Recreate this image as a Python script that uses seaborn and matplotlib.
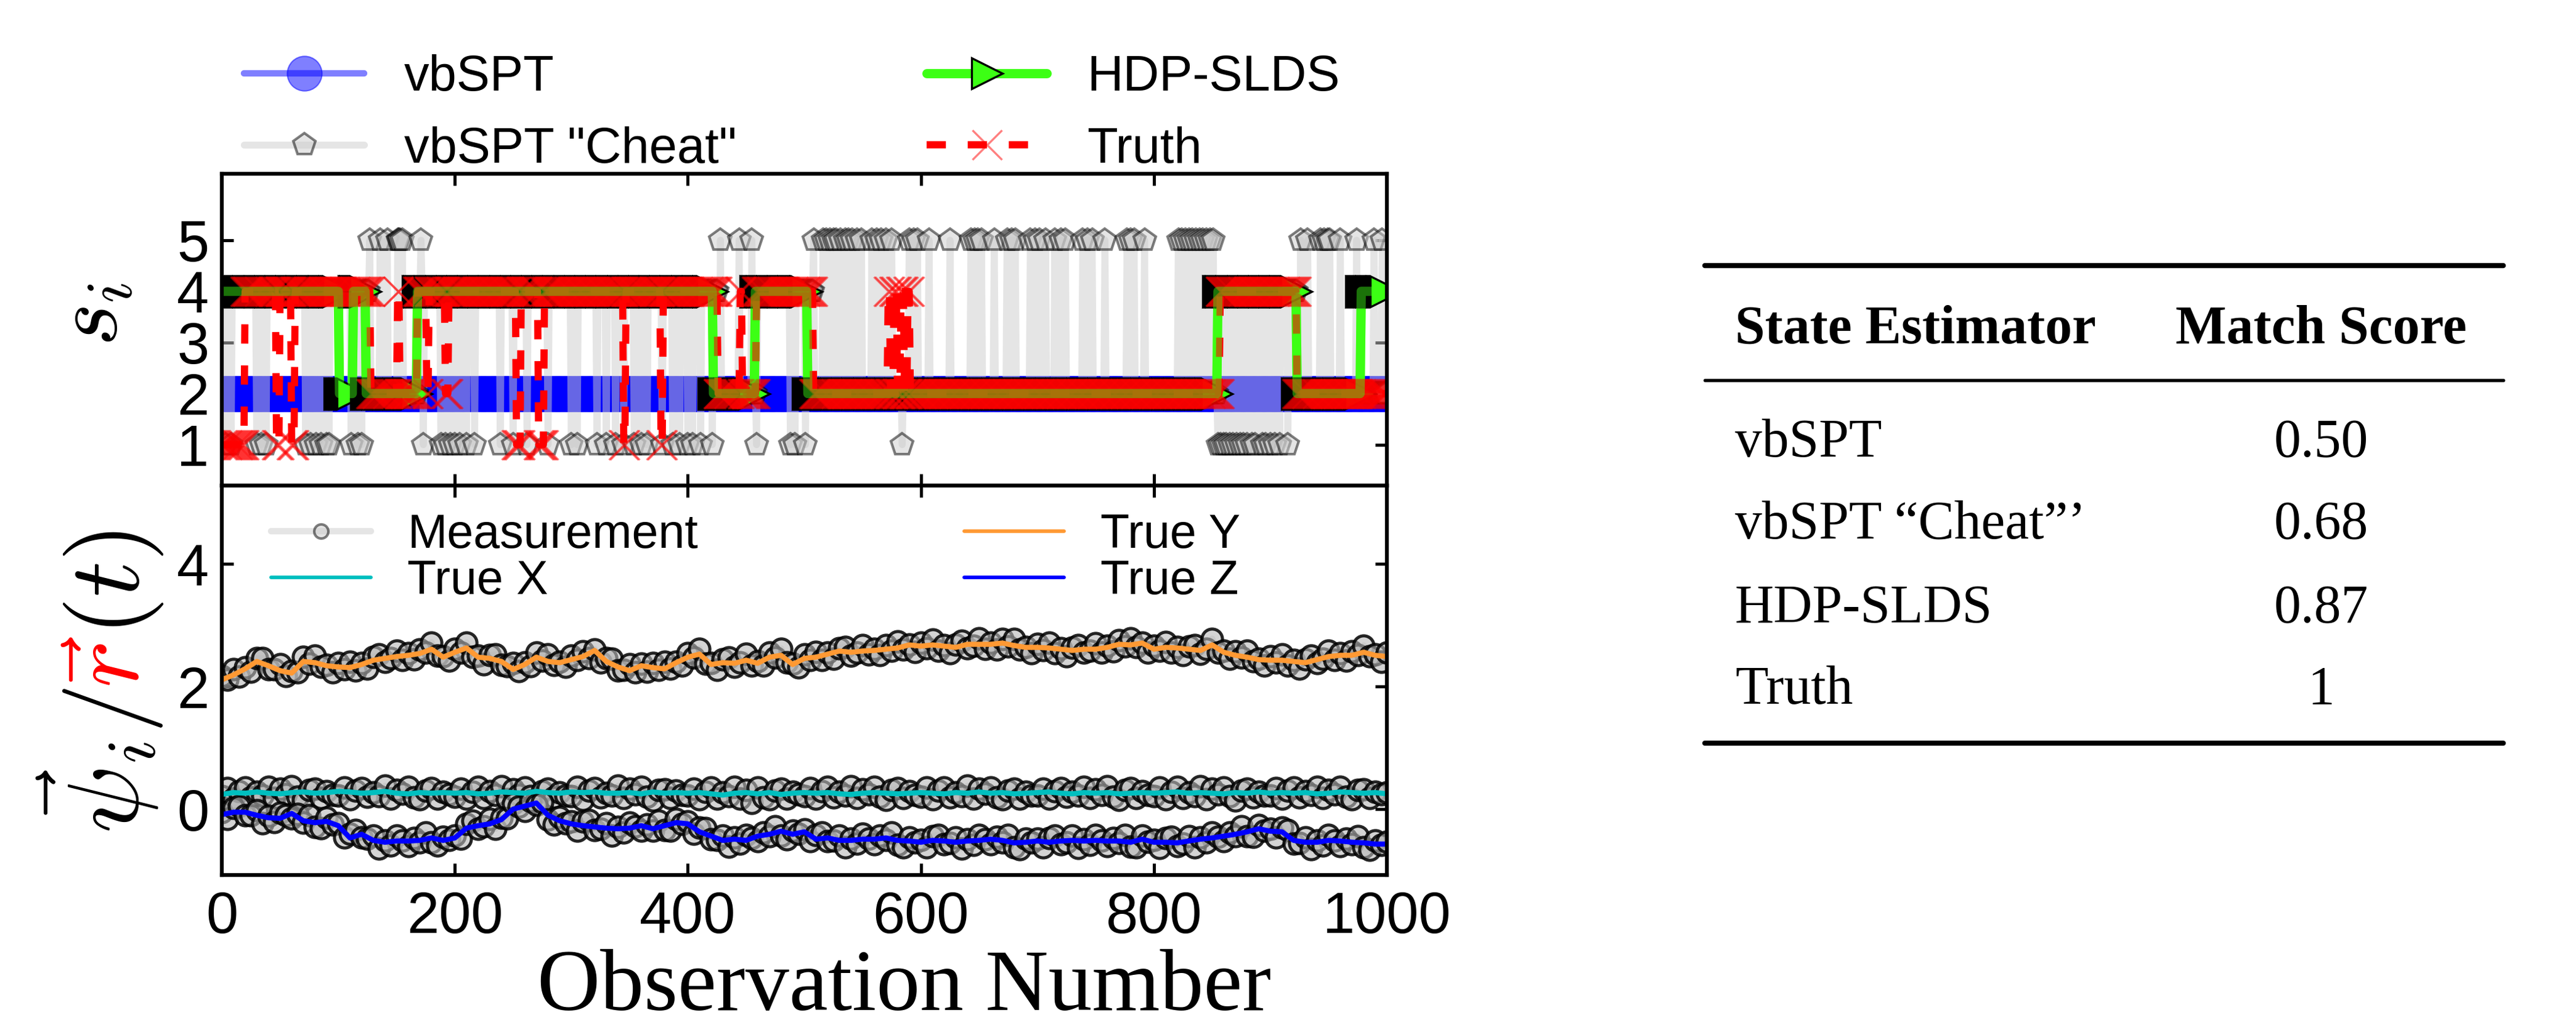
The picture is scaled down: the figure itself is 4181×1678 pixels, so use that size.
import numpy as np
import matplotlib
matplotlib.use("Agg")
import matplotlib.pyplot as plt
from matplotlib.lines import Line2D
import seaborn as sns

# ---------------- state sequences (run lengths) ----------------
vbspt_states = [2]
vbspt_lengths = [1000]

cheat_base_states = [4, 2, 4, 2, 4, 2, 4, 2]
cheat_base_lengths = [128, 40, 258, 33, 49, 347, 68, 77]
cheat_to_1 = [3, 8, 30, 34, 38, 72, 76, 81, 85, 90, 92, 111, 117, 120, 173, 188, 192, 196,
              200, 204, 210, 217, 239, 250, 262, 280, 300, 305, 322, 330, 338, 345, 354,
              360, 365, 378, 387, 393, 400, 404, 411, 421, 459, 488, 492, 501, 584, 855,
              857, 860, 862, 865, 868, 871, 874, 877, 880, 884, 887, 893, 896, 900, 904,
              908, 915]
cheat_to_5 = [127, 136, 142, 151, 152, 153, 155, 171, 428, 444, 455, 508, 516, 519, 522,
              525, 527, 531, 535, 538, 541, 545, 549, 558, 562, 566, 570, 575, 590, 594,
              597, 607, 625, 643, 646, 649, 652, 663, 674, 678, 681, 694, 698, 702, 707,
              715, 720, 724, 739, 743, 747, 758, 777, 780, 783, 792, 821, 824, 827, 830,
              833, 836, 839, 842, 845, 848, 851, 926, 932, 943, 946, 949, 951, 960, 974,
              989, 996]

hdp_states = [4, 2, 4, 2, 4, 2, 4, 2, 4, 2, 4]
hdp_lengths = [101, 12, 11, 44, 254, 36, 45, 352, 68, 55, 22]

truth_states = [1, 4, 1, 4, 1, 4, 2, 4, 2, 4, 2, 4, 2, 4, 1, 4, 1, 4, 1, 4, 1, 4, 2, 4,
                2, 4, 2, 4, 2, 4, 2, 4, 2, 4, 2, 4, 2]
truth_lengths = [20, 27, 3, 10, 3, 65, 23, 2, 15, 8, 2, 14, 3, 58, 4, 15, 5, 68, 2, 30, 2,
                 47, 19, 2, 12, 49, 64, 2, 3, 3, 3, 3, 3, 2, 266, 66, 77]

# ---------------- trajectories ----------------
traj_obs = list(range(0, 1001, 10))
true_x = [0.24, 0.27, 0.26, 0.28, 0.26, 0.25, 0.27, 0.28, 0.26, 0.27,
          0.29, 0.28, 0.26, 0.27, 0.29, 0.26, 0.25, 0.27, 0.26, 0.27,
          0.26, 0.27, 0.25, 0.26, 0.28, 0.27, 0.26, 0.29, 0.27, 0.26,
          0.28, 0.27, 0.28, 0.26, 0.26, 0.27, 0.25, 0.28, 0.26, 0.27,
          0.26, 0.27, 0.25, 0.23, 0.26, 0.27, 0.25, 0.27, 0.24, 0.26,
          0.27, 0.26, 0.27, 0.25, 0.24, 0.26, 0.27, 0.26, 0.25, 0.26,
          0.27, 0.26, 0.25, 0.27, 0.26, 0.28, 0.26, 0.27, 0.25, 0.26,
          0.27, 0.28, 0.26, 0.25, 0.27, 0.26, 0.27, 0.25, 0.26, 0.27,
          0.26, 0.27, 0.28, 0.26, 0.27, 0.26, 0.25, 0.27, 0.26, 0.28,
          0.26, 0.27, 0.26, 0.27, 0.25, 0.26, 0.28, 0.27, 0.26, 0.27,
          0.25]
true_y = [2.11, 2.19, 2.29, 2.41, 2.34, 2.26, 2.22, 2.41, 2.39, 2.34,
          2.32, 2.31, 2.36, 2.43, 2.46, 2.49, 2.51, 2.54, 2.61, 2.48,
          2.56, 2.63, 2.48, 2.46, 2.41, 2.28, 2.36, 2.48, 2.41, 2.39,
          2.44, 2.49, 2.59, 2.41, 2.32, 2.26, 2.34, 2.31, 2.29, 2.39,
          2.48, 2.53, 2.36, 2.39, 2.38, 2.43, 2.38, 2.48, 2.51, 2.36,
          2.46, 2.48, 2.53, 2.58, 2.56, 2.58, 2.59, 2.61, 2.63, 2.68,
          2.66, 2.68, 2.66, 2.64, 2.69, 2.69, 2.69, 2.71, 2.67, 2.64,
          2.64, 2.63, 2.61, 2.59, 2.61, 2.61, 2.64, 2.69, 2.68, 2.71,
          2.61, 2.64, 2.63, 2.61, 2.59, 2.68, 2.56, 2.51, 2.48, 2.44,
          2.43, 2.43, 2.41, 2.39, 2.44, 2.49, 2.51, 2.51, 2.56, 2.51,
          2.49]
true_z = [-0.09, -0.05, -0.05, -0.10, -0.14, -0.15, -0.07, -0.19, -0.22, -0.20,
          -0.27, -0.47, -0.41, -0.51, -0.54, -0.52, -0.52, -0.51, -0.47, -0.51,
          -0.47, -0.31, -0.27, -0.24, -0.17, 0.00, 0.05, 0.10, -0.10, -0.19,
          -0.24, -0.27, -0.29, -0.31, -0.32, -0.31, -0.27, -0.32, -0.27, -0.22,
          -0.24, -0.37, -0.44, -0.51, -0.49, -0.51, -0.44, -0.41, -0.36, -0.41,
          -0.37, -0.49, -0.47, -0.51, -0.51, -0.49, -0.49, -0.47, -0.51, -0.52,
          -0.54, -0.51, -0.52, -0.54, -0.52, -0.51, -0.49, -0.51, -0.55, -0.54,
          -0.52, -0.54, -0.52, -0.51, -0.52, -0.51, -0.52, -0.52, -0.54, -0.49,
          -0.54, -0.54, -0.55, -0.52, -0.49, -0.47, -0.44, -0.41, -0.37, -0.32,
          -0.36, -0.37, -0.51, -0.54, -0.54, -0.51, -0.52, -0.54, -0.55, -0.57,
          -0.57]

meas_obs = list(range(0, 1001, 5))
meas_x = [0.21, 0.34, 0.17, 0.29, 0.35, 0.19, 0.28, 0.22, 0.36, 0.18, 0.33, 0.24, 0.37, 0.20, 0.15, 0.31, 0.33, 0.18, 0.29, 0.23,
          0.22, 0.35, 0.16, 0.30, 0.34, 0.20, 0.27, 0.21, 0.38, 0.17, 0.31, 0.25, 0.36, 0.19, 0.16, 0.30, 0.34, 0.17, 0.28, 0.24,
          0.20, 0.33, 0.17, 0.28, 0.36, 0.18, 0.29, 0.23, 0.37, 0.16, 0.32, 0.23, 0.35, 0.21, 0.15, 0.29, 0.33, 0.19, 0.27, 0.22,
          0.21, 0.36, 0.15, 0.30, 0.34, 0.19, 0.26, 0.22, 0.38, 0.18, 0.33, 0.24, 0.36, 0.20, 0.14, 0.31, 0.32, 0.18, 0.30, 0.23,
          0.22, 0.33, 0.16, 0.28, 0.35, 0.17, 0.27, 0.21, 0.36, 0.17, 0.31, 0.10, 0.35, 0.19, 0.16, 0.30, 0.33, 0.17, 0.28, 0.24,
          0.21, 0.34, 0.17, 0.29, 0.36, 0.19, 0.28, 0.22, 0.37, 0.18, 0.32, 0.24, 0.36, 0.20, 0.15, 0.31, 0.34, 0.18, 0.29, 0.23,
          0.20, 0.35, 0.16, 0.30, 0.35, 0.19, 0.27, 0.21, 0.38, 0.17, 0.33, 0.25, 0.35, 0.19, 0.16, 0.30, 0.33, 0.17, 0.28, 0.22,
          0.22, 0.33, 0.17, 0.29, 0.34, 0.20, 0.28, 0.22, 0.36, 0.18, 0.32, 0.23, 0.37, 0.20, 0.15, 0.31, 0.34, 0.18, 0.29, 0.23,
          0.21, 0.35, 0.16, 0.28, 0.36, 0.18, 0.27, 0.21, 0.37, 0.16, 0.33, 0.24, 0.35, 0.21, 0.14, 0.30, 0.33, 0.19, 0.28, 0.22,
          0.22, 0.34, 0.17, 0.30, 0.35, 0.19, 0.29, 0.23, 0.36, 0.18, 0.31, 0.24, 0.36, 0.20, 0.16, 0.31, 0.32, 0.18, 0.28, 0.24,
          0.27]
meas_y = [2.17, 2.11, 2.28, 2.16, 2.31, 2.24, 2.46, 2.46, 2.28, 2.28, 2.36, 2.17, 2.25, 2.23, 2.48, 2.37, 2.50, 2.32, 2.35, 2.23,
          2.38, 2.28, 2.40, 2.26, 2.38, 2.29, 2.48, 2.52, 2.40, 2.46, 2.59, 2.43, 2.54, 2.44, 2.61, 2.55, 2.72, 2.50, 2.49, 2.42,
          2.62, 2.56, 2.72, 2.48, 2.50, 2.36, 2.51, 2.52, 2.35, 2.33, 2.38, 2.25, 2.39, 2.33, 2.55, 2.42, 2.52, 2.35, 2.40, 2.32,
          2.50, 2.43, 2.58, 2.46, 2.61, 2.39, 2.46, 2.45, 2.26, 2.27, 2.36, 2.23, 2.37, 2.24, 2.38, 2.27, 2.40, 2.29, 2.40, 2.34,
          2.54, 2.47, 2.62, 2.37, 2.38, 2.27, 2.44, 2.47, 2.32, 2.39, 2.53, 2.34, 2.41, 2.34, 2.55, 2.47, 2.62, 2.39, 2.37, 2.31,
          2.52, 2.43, 2.57, 2.43, 2.55, 2.45, 2.63, 2.65, 2.50, 2.55, 2.68, 2.52, 2.62, 2.51, 2.68, 2.59, 2.74, 2.61, 2.69, 2.57,
          2.72, 2.63, 2.77, 2.59, 2.68, 2.54, 2.69, 2.75, 2.63, 2.67, 2.79, 2.62, 2.72, 2.61, 2.78, 2.66, 2.78, 2.61, 2.65, 2.54,
          2.70, 2.60, 2.72, 2.54, 2.63, 2.49, 2.64, 2.68, 2.55, 2.59, 2.71, 2.56, 2.67, 2.58, 2.76, 2.66, 2.79, 2.65, 2.72, 2.56,
          2.67, 2.59, 2.73, 2.56, 2.65, 2.51, 2.66, 2.68, 2.53, 2.62, 2.78, 2.55, 2.59, 2.45, 2.58, 2.47, 2.59, 2.41, 2.45, 2.34,
          2.49, 2.39, 2.52, 2.34, 2.43, 2.29, 2.44, 2.50, 2.38, 2.45, 2.59, 2.43, 2.54, 2.42, 2.58, 2.51, 2.67, 2.49, 2.52, 2.40,
          2.55]
meas_z = [-0.05, -0.16, 0.02, 0.05, -0.10, -0.10, -0.02, -0.23, -0.11, -0.21, -0.06, -0.10, -0.15, -0.08, -0.22, -0.10, -0.29, -0.31, -0.14, -0.25,
          -0.23, -0.46, -0.40, -0.34, -0.46, -0.48, -0.43, -0.64, -0.51, -0.59, -0.43, -0.51, -0.60, -0.47, -0.54, -0.38, -0.54, -0.59, -0.45, -0.50,
          -0.43, -0.48, -0.24, -0.19, -0.32, -0.28, -0.16, -0.32, -0.14, -0.15, 0.09, 0.04, -0.03, 0.13, 0.07, 0.11, -0.17, -0.25, -0.13, -0.23,
          -0.20, -0.35, -0.20, -0.18, -0.34, -0.32, -0.23, -0.43, -0.29, -0.38, -0.22, -0.28, -0.35, -0.25, -0.35, -0.19, -0.34, -0.35, -0.16, -0.24,
          -0.20, -0.40, -0.30, -0.31, -0.49, -0.50, -0.43, -0.61, -0.46, -0.56, -0.42, -0.47, -0.52, -0.38, -0.44, -0.28, -0.43, -0.49, -0.35, -0.40,
          -0.33, -0.52, -0.42, -0.38, -0.52, -0.51, -0.43, -0.62, -0.48, -0.56, -0.40, -0.48, -0.57, -0.43, -0.50, -0.38, -0.58, -0.62, -0.46, -0.54,
          -0.50, -0.62, -0.44, -0.42, -0.57, -0.55, -0.46, -0.64, -0.49, -0.58, -0.42, -0.49, -0.57, -0.45, -0.54, -0.42, -0.62, -0.65, -0.48, -0.54,
          -0.48, -0.62, -0.47, -0.43, -0.57, -0.54, -0.43, -0.63, -0.49, -0.58, -0.42, -0.51, -0.60, -0.47, -0.55, -0.42, -0.61, -0.62, -0.43, -0.53,
          -0.50, -0.63, -0.47, -0.45, -0.60, -0.56, -0.44, -0.62, -0.46, -0.54, -0.38, -0.45, -0.52, -0.38, -0.44, -0.28, -0.44, -0.45, -0.26, -0.35,
          -0.32, -0.46, -0.30, -0.34, -0.56, -0.55, -0.46, -0.65, -0.51, -0.59, -0.42, -0.51, -0.60, -0.48, -0.57, -0.44, -0.62, -0.66, -0.51, -0.58,
          -0.53]

table_header = ["State Estimator", "Match Score"]
table_rows = ["vbSPT", "vbSPT \u201cCheat\u201d\u2019", "HDP-SLDS", "Truth"]
table_scores = ["0.50", "0.68", "0.87", "1"]

# ---------------- build sequences ----------------
obs = np.arange(1000)
vbspt = np.repeat(vbspt_states, vbspt_lengths)
cheat = np.repeat(cheat_base_states, cheat_base_lengths)
cheat[cheat_to_1] = 1
cheat[cheat_to_5] = 5
hdp = np.repeat(hdp_states, hdp_lengths)
truth = np.repeat(truth_states, truth_lengths)

# ---------------- style ----------------
sns.set_theme(style="ticks", color_codes=False)
plt.rcParams.update({
    "font.family": ["Liberation Sans", "DejaVu Sans"],
    "mathtext.fontset": "cm",
    "lines.scale_dashes": False,
    "text.color": "black",
    "axes.labelcolor": "black",
    "axes.linewidth": 1.5,
    "axes.edgecolor": "black",
    "xtick.direction": "in", "ytick.direction": "in",
    "xtick.top": True, "ytick.right": True,
    "xtick.major.size": 4.5, "ytick.major.size": 4.5,
    "xtick.major.width": 1.2, "ytick.major.width": 1.2,
    "xtick.color": "black", "ytick.color": "black",
    "xtick.labelsize": 22.5, "ytick.labelsize": 22.5,
    "xtick.major.pad": 6, "ytick.major.pad": 5,
})

BLUE, RED, CYAN, ORANGE, GREEN = "#0000ff", "#ff0000", "#00bfbf", "#ff9933", "#3cff14"

W, H = 4181, 1678
fig = plt.figure(figsize=(W / 300, H / 300), dpi=300)
fig.patch.set_facecolor("white")
ax_s = fig.add_axes([360 / W, 1 - 788 / H, 1891 / W, 506 / H])
ax_p = fig.add_axes([360 / W, 1 - 1420 / H, 1891 / W, 632 / H])

cheat_kw = dict(color=(0.8, 0.8, 0.8, 0.5), lw=2.7, marker="p", ms=9,
                mfc=(0.8, 0.8, 0.8, 0.5), mec=(0, 0, 0, 0.5), mew=1.0)
vb_kw = dict(color=BLUE, lw=2.5, marker="o", ms=13.5, mec=BLUE, mew=0.5, alpha=0.5)
hdp_kw = dict(color=GREEN, lw=3.6, marker=">", ms=12, mfc=GREEN, mec="k", mew=0.8)
truth_kw = dict(color=RED, lw=2.8, ls=(0, (7.5, 8.5)), marker="x", ms=11.5,
                mec=(1, 0, 0, 0.5), mew=0.8)

# ---- top panel: state estimates ----
ax_s.plot(obs, vbspt, **vb_kw)
ax_s.plot(obs, cheat, **cheat_kw)
ax_s.plot(obs, hdp, **hdp_kw)
ax_s.plot(obs, truth, **truth_kw)
ax_s.plot(obs, hdp, color=GREEN, lw=3.6, alpha=0.45)

ax_s.set_xlim(0, 1000)
ax_s.set_ylim(0.2, 6.3)
ax_s.set_yticks([1, 2, 3, 4, 5])
ax_s.set_xticks(range(0, 1001, 200))
ax_s.tick_params(labelbottom=False)

# ---- bottom panel: trajectories ----
meas_kw = dict(color=(0.8, 0.8, 0.8, 0.5), lw=2.5, marker="o", ms=8,
               markerfacecolor=(0.72, 0.72, 0.72, 0.6), markeredgecolor=(0, 0, 0, 0.85),
               markeredgewidth=1.2)
for m in (meas_y, meas_x, meas_z):
    sns.lineplot(x=meas_obs, y=m, ax=ax_p, estimator=None, sort=False, **meas_kw)
sns.lineplot(x=traj_obs, y=true_y, ax=ax_p, color=ORANGE, lw=2.0, estimator=None, sort=False)
sns.lineplot(x=traj_obs, y=true_x, ax=ax_p, color=CYAN, lw=2.0, estimator=None, sort=False)
sns.lineplot(x=traj_obs, y=true_z, ax=ax_p, color=BLUE, lw=2.0, estimator=None, sort=False)

ax_p.set_xlim(0, 1000)
ax_p.set_ylim(-1.075, 5.28)
ax_p.set_yticks([0, 2, 4])
ax_p.set_xticks(range(0, 1001, 200))
ax_p.set_ylabel("")
ax_p.set_xlabel("Observation Number", fontsize=34, color="black",
                family=["Liberation Serif", "DejaVu Serif"])
ax_p.xaxis.set_label_coords(0.586, -0.19)

for ax in (ax_s, ax_p):
    for sp in ax.spines.values():
        sp.set_visible(True)
        sp.set_linewidth(1.5)
        sp.set_color("black")

# ---- legends ----
top_handles = [Line2D([], [], **vb_kw), Line2D([], [], **cheat_kw),
               Line2D([], [], **hdp_kw), Line2D([], [], **truth_kw)]
top_labels = ["vbSPT", 'vbSPT "Cheat"', "HDP-SLDS", "Truth"]
fig.legend(top_handles, top_labels, loc="upper left", bbox_to_anchor=(396 / W, 1 - 88 / H),
           ncol=2, frameon=False, fontsize=19.5, handlelength=2.4, handletextpad=0.8,
           columnspacing=3.8, labelspacing=0.5, borderpad=0, borderaxespad=0, numpoints=1)

bot_handles = [Line2D([], [], color=(0.8, 0.8, 0.8, 0.5), lw=2.5, marker="o", ms=5.5,
                      mfc=(0.8, 0.8, 0.8, 0.5), mec=(0, 0, 0, 0.5), mew=1.0),
               Line2D([], [], color=CYAN, lw=1.4),
               Line2D([], [], color=ORANGE, lw=1.4),
               Line2D([], [], color=BLUE, lw=1.4)]
bot_labels = ["Measurement", "True X", "True Y", "True Z"]
ax_p.legend(bot_handles, bot_labels, loc="upper left", bbox_to_anchor=(440 / W, 1 - 832 / H),
            bbox_transform=fig.transFigure, ncol=2, frameon=False, fontsize=18.5,
            handlelength=2.1, handletextpad=0.77, columnspacing=5.6, labelspacing=0.02,
            borderpad=0, borderaxespad=0, numpoints=1)

# ---- y labels ----
fig.text(150 / W, 1 - 510 / H, r"$s_i$", rotation=90, ha="center", va="center", fontsize=36)

fig.canvas.draw()
renderer = fig.canvas.get_renderer()
x0 = 225 / W
lab_kw = dict(rotation=90, rotation_mode="anchor", ha="left", va="baseline", fontsize=39)
t1 = fig.text(x0, 1 - 1352 / H, r"$\vec{\psi}_i/$", **lab_kw)
bb = t1.get_window_extent(renderer)
t2 = fig.text(x0, bb.y1 / H, r"$\vec{r}$", color=RED, **lab_kw)
bb = t2.get_window_extent(renderer)
t3 = fig.text(x0, bb.y1 / H, r"$(t)$", **lab_kw)

# ---- table ----
tx0, tx1 = 2767 / W, 4063 / W
for yy, lw in ((431, 2.0), (617, 1.3), (1206, 2.0)):
    fig.add_artist(Line2D([tx0, tx1], [1 - yy / H, 1 - yy / H], transform=fig.transFigure,
                          color="k", lw=lw))
serif = ["Liberation Serif", "DejaVu Serif"]
fig.text(2816 / W, 1 - 557 / H, table_header[0], family=serif, fontsize=21,
         fontweight="bold", ha="left", va="baseline")
fig.text(3767 / W, 1 - 557 / H, table_header[1], family=serif, fontsize=21,
         fontweight="bold", ha="center", va="baseline")
for name, score, yy in zip(table_rows, table_scores, (741, 874, 1010, 1142)):
    fig.text(2816 / W, 1 - yy / H, name, family=serif, fontsize=21, ha="left", va="baseline")
    fig.text(3767 / W, 1 - yy / H, score, family=serif, fontsize=21, ha="center", va="baseline")

fig.savefig("out.png", dpi=300, facecolor="white")
